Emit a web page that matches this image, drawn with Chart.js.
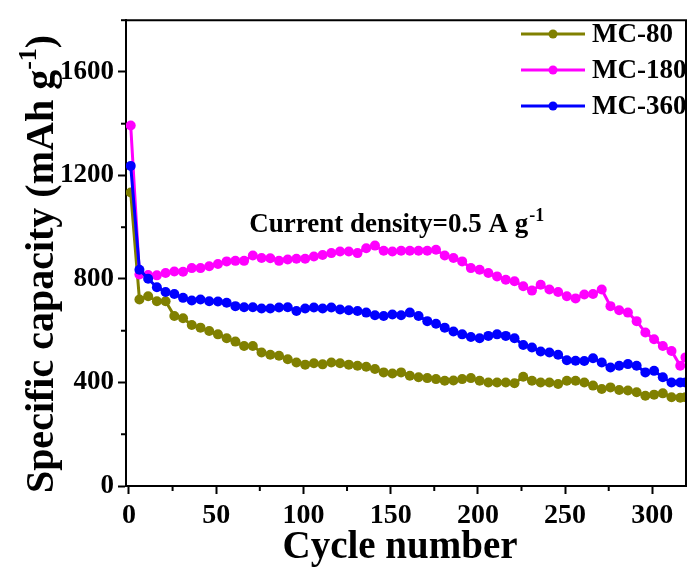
<!DOCTYPE html>
<html>
<head>
<meta charset="utf-8">
<script src="https://cdn.jsdelivr.net/npm/chart.js@4/dist/chart.umd.min.js"></script>
<style>
  body { margin: 0; background: #fff; }
  #wrap { width: 691px; height: 569px; }
</style>
</head>
<body>
<div id="wrap"><canvas id="capChart" width="691" height="569"></canvas></div>
<script>
// cycle numbers of the plotted points
const cycles = [1, 6, 11, 16, 21, 26, 31, 36, 41, 46, 51, 56, 61, 66, 71, 76, 81, 86, 91, 96,
  101, 106, 111, 116, 121, 126, 131, 136, 141, 146, 151, 156, 161, 166, 171, 176, 181, 186, 191, 196,
  201, 206, 211, 216, 221, 226, 231, 236, 241, 246, 251, 256, 261, 266, 271, 276, 281, 286, 291, 296,
  301, 306, 311, 316, 319];

const mc80 = [1134, 721, 733, 714, 714, 657, 648, 622, 612, 599, 586,
  571, 558, 541, 541, 516, 507, 503, 490, 477, 469,
  474, 470, 477, 474, 469, 465, 461, 452, 439, 435,
  439, 426, 420, 417, 413, 407, 408, 413, 417, 407,
  400, 400, 400, 397, 422, 407, 400, 400, 394, 407,
  407, 400, 388, 375, 381, 371, 369, 362, 349, 353,
  358, 343, 341, 343];

const mc180 = [1393, 817, 815, 814, 823, 829, 828, 842, 842, 849, 858,
  868, 870, 870, 891, 881, 880, 870, 875, 878, 878,
  887, 893, 900, 906, 906, 900, 919, 929, 909, 906,
  909, 909, 909, 909, 913, 891, 881, 868, 842, 836,
  823, 810, 797, 791, 772, 755, 778, 759, 750, 733,
  725, 740, 742, 759, 695, 679, 670, 637, 593, 567,
  541, 522, 465, 497];

const mc360 = [1237, 836, 801, 768, 750, 742, 727, 717, 721, 714, 713,
  708, 695, 691, 691, 686, 686, 690, 691, 676, 686,
  690, 686, 690, 682, 679, 676, 670, 660, 657, 663,
  660, 670, 657, 637, 627, 612, 597, 586, 576, 571,
  580, 586, 580, 571, 545, 535, 520, 516, 507, 486,
  484, 483, 494, 477, 458, 465, 471, 465, 439, 445,
  420, 400, 400, 400];

const seriesNames = ['MC-80', 'MC-180', 'MC-360'];
const seriesColors = ['#808000', '#FF00FF', '#0000FF'];
const yLabelMain = 'Specific capacity (mAh g';
const xLabel = 'Cycle number';
const noteMain = 'Current density=0.5 A g';

const serif = '"Liberation Serif", "Times New Roman", serif';

function pts(vals) {
  return vals.map((v, i) => ({ x: cycles[i], y: v }));
}

function makeSet(i, vals, order) {
  return {
    label: seriesNames[i],
    data: pts(vals),
    borderColor: seriesColors[i],
    backgroundColor: seriesColors[i],
    borderWidth: 3,
    pointRadius: 5,
    pointBorderWidth: 0,
    tension: 0,
    order: order
  };
}

// frame, minor ticks, axis titles, legend and the note
const extras = {
  id: 'extras',
  afterDraw(chart) {
    const ctx = chart.ctx;
    const a = chart.chartArea;
    const xs = chart.scales.x;
    const ys = chart.scales.y;
    ctx.save();
    ctx.strokeStyle = '#000';
    ctx.lineWidth = 2;
    ctx.beginPath();
    ctx.moveTo(a.left - 1, a.top);
    ctx.lineTo(a.right, a.top);
    ctx.lineTo(a.right, a.bottom + 1);
    ctx.stroke();

    // minor ticks
    xs.ticks.forEach(t => {
      if (t.value % 50 !== 0) {
        const px = xs.getPixelForValue(t.value);
        ctx.beginPath(); ctx.moveTo(px, a.bottom); ctx.lineTo(px, a.bottom + 5); ctx.stroke();
      }
    });
    ys.ticks.forEach(t => {
      if (t.value % 400 !== 0) {
        const py = ys.getPixelForValue(t.value);
        ctx.beginPath(); ctx.moveTo(a.left, py); ctx.lineTo(a.left - 5, py); ctx.stroke();
      }
    });

    // x axis title
    ctx.fillStyle = '#000';
    ctx.font = 'bold 39px ' + serif;
    ctx.textAlign = 'center';
    ctx.textBaseline = 'alphabetic';
    ctx.fillText(xLabel, 400, 558);
    ctx.textAlign = 'left';

    // y axis title with superscript
    ctx.translate(38, 264);
    ctx.rotate(-Math.PI / 2);
    const big = 'bold 40px ' + serif;
    const small = 'bold 26px ' + serif;
    ctx.font = big;
    const w1 = ctx.measureText(yLabelMain).width;
    const w3 = ctx.measureText(')').width;
    ctx.font = small;
    const w2 = ctx.measureText('-1').width;
    const sx = -(w1 + w2 + w3) / 2;
    ctx.font = big;
    ctx.fillText(yLabelMain, sx, 15);
    ctx.font = small;
    ctx.fillText('-1', sx + w1, -2);
    ctx.font = big;
    ctx.fillText(')', sx + w1 + w2, 15);
    ctx.restore();

    // note
    ctx.save();
    ctx.fillStyle = '#000';
    const nx = xs.getPixelForValue(69);
    const ny = ys.getPixelForValue(983);
    ctx.font = 'bold 27px ' + serif;
    ctx.fillText(noteMain, nx, ny);
    const nw = ctx.measureText(noteMain).width;
    ctx.font = 'bold 18px ' + serif;
    ctx.fillText('-1', nx + nw + 1, ny - 11);
    ctx.restore();

    // legend
    ctx.save();
    chart.data.datasets.forEach((ds, i) => {
      const cy = 34 + i * 36;
      ctx.strokeStyle = ds.borderColor;
      ctx.fillStyle = ds.borderColor;
      ctx.lineWidth = 3;
      ctx.beginPath(); ctx.moveTo(521, cy); ctx.lineTo(585, cy); ctx.stroke();
      ctx.beginPath(); ctx.arc(553, cy, 4.5, 0, Math.PI * 2); ctx.fill();
      ctx.fillStyle = '#000';
      ctx.font = 'bold 27px ' + serif;
      ctx.textBaseline = 'middle';
      ctx.fillText(ds.label, 592, cy + 1);
    });
    ctx.restore();
  }
};

const chart = new Chart(document.getElementById('capChart').getContext('2d'), {
  type: 'line',
  data: {
    datasets: [makeSet(0, mc80, 2), makeSet(1, mc180, 1), makeSet(2, mc360, 0)]
  },
  options: {
    responsive: false,
    animation: false,
    layout: { padding: { top: 16, right: 1, left: 0, bottom: 0 } },
    plugins: {
      legend: { display: false },
      tooltip: { enabled: false }
    },
    scales: {
      x: {
        type: 'linear',
        min: -1.7,
        max: 319.3,
        afterFit: s => { s.height = 83; },
        border: { display: true, color: '#000', width: 2 },
        grid: {
          drawOnChartArea: false,
          tickLength: 8,
          tickWidth: 2,
          tickColor: c => (c.tick && c.tick.value % 50 === 0) ? '#000' : 'rgba(0,0,0,0)'
        },
        ticks: {
          stepSize: 25,
          includeBounds: false,
          maxRotation: 0,
          autoSkip: false,
          padding: 5,
          color: '#000',
          font: { family: serif, size: 28, weight: 'bold' },
          callback: v => (v % 50 === 0 ? v : '')
        }
      },
      y: {
        min: 0,
        max: 1800,
        afterFit: s => { s.width = 126; },
        border: { display: true, color: '#000', width: 2 },
        grid: {
          drawOnChartArea: false,
          tickLength: 8,
          tickWidth: 2,
          tickColor: c => (c.tick && c.tick.value % 400 === 0) ? '#000' : 'rgba(0,0,0,0)'
        },
        ticks: {
          stepSize: 200,
          autoSkip: false,
          padding: 4,
          color: '#000',
          font: { family: serif, size: 27, weight: 'bold' },
          callback: v => (v % 400 === 0 ? v : '')
        }
      }
    }
  },
  plugins: [extras]
});
</script>
</body>
</html>
